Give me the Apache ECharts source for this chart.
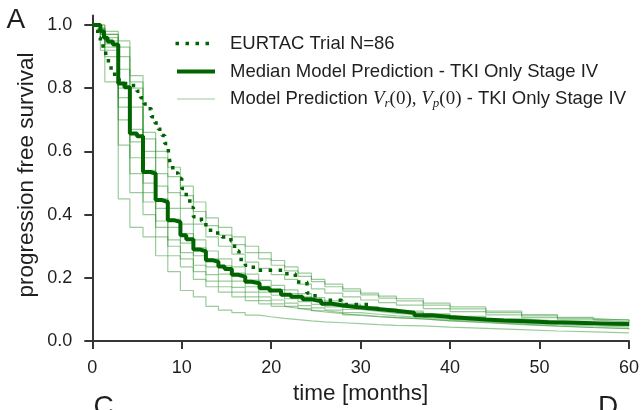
<!DOCTYPE html>
<html><head><meta charset="utf-8">
<script src="https://cdn.jsdelivr.net/npm/echarts@6/dist/echarts.min.js"></script>
<style>html,body{margin:0;padding:0;background:#fff}#c{width:642px;height:410px}</style>
</head><body><div id="c"></div>
<script>
// ---------- data ----------
const xTicks = [0, 10, 20, 30, 40, 50, 60];
const yTicks = [0, 0.2, 0.4, 0.6, 0.8, 1.0];

const trialT = [0,0.3,0.6,0.9,1.2,1.5,1.8,2.1,2.5,3.0,4.6,5.0,5.4,5.8,6.2,6.6,7.0,7.4,7.8,8.1,8.5,8.7,9.0,9.6,10.0,10.5,10.9,11.3,12.2,12.7,13.6,14.5,15.5,15.9,16.4,17.1,18.0,21.4,22.7,24.0,24.9,27.9,31.0];
const trialS = [1.0,0.985,0.96,0.94,0.92,0.895,0.87,0.855,0.834,0.815,0.80,0.79,0.77,0.75,0.735,0.71,0.69,0.67,0.65,0.625,0.596,0.562,0.532,0.514,0.483,0.456,0.423,0.393,0.38,0.351,0.342,0.329,0.317,0.285,0.258,0.24,0.224,0.213,0.187,0.152,0.129,0.116,0.116];

const medianT = [0,0.9,1.3,1.7,2.3,2.9,3.6,4.2,5.0,5.67,6.5,7.08,7.8,8.44,9.2,9.85,10.5,11.3,12.0,12.7,13.4,14.1,14.8,15.6,16.3,17.1,17.8,18.7,19.8,21.1,22.2,23.5,24.5,25.6,26.8,28.2,29.5,31,32.5,34,36,38,40,42,44,46,48.5,51,54,57,60];
const medianS = [1.0,0.98,0.96,0.948,0.938,0.815,0.803,0.657,0.648,0.535,0.53,0.446,0.44,0.382,0.377,0.335,0.322,0.29,0.284,0.256,0.251,0.236,0.228,0.21,0.204,0.188,0.183,0.167,0.16,0.147,0.14,0.132,0.126,0.118,0.112,0.108,0.104,0.1,0.096,0.09,0.082,0.076,0.072,0.068,0.065,0.063,0.06,0.058,0.056,0.054,0.052];

const predT = [0,0.9,1.4,2.9,4.2,5.67,7.08,8.44,9.85,11.3,12.7,14.1,15.6,17.1,18.6,20.0,21.5,23.0,24.5,26,28,30,32,34,37,40,44,48,52,56,60];
const pred1  = [1.0,1.0,0.98,0.95,0.84,0.66,0.60,0.55,0.49,0.44,0.39,0.36,0.33,0.30,0.28,0.255,0.235,0.215,0.195,0.18,0.165,0.152,0.142,0.134,0.12,0.108,0.095,0.084,0.075,0.068,0.063];
const pred2  = [1.0,1.0,0.97,0.93,0.82,0.64,0.58,0.52,0.46,0.41,0.365,0.335,0.305,0.28,0.26,0.24,0.222,0.205,0.188,0.172,0.158,0.146,0.136,0.127,0.114,0.102,0.09,0.08,0.072,0.066,0.06];
const pred3  = [1.0,0.99,0.97,0.90,0.80,0.60,0.53,0.47,0.42,0.37,0.33,0.30,0.275,0.25,0.23,0.21,0.195,0.18,0.165,0.152,0.14,0.13,0.122,0.114,0.103,0.093,0.083,0.074,0.067,0.061,0.057];
const pred4  = [1.0,0.99,0.96,0.86,0.74,0.58,0.49,0.42,0.37,0.32,0.285,0.26,0.235,0.212,0.192,0.176,0.162,0.15,0.138,0.127,0.117,0.109,0.102,0.095,0.086,0.078,0.07,0.064,0.059,0.055,0.052];
const pred5  = [1.0,0.98,0.95,0.80,0.67,0.54,0.45,0.385,0.34,0.295,0.26,0.238,0.215,0.193,0.173,0.163,0.15,0.14,0.13,0.12,0.11,0.104,0.098,0.09,0.082,0.074,0.067,0.062,0.058,0.055,0.05];
const pred6  = [1.0,0.98,0.94,0.77,0.63,0.50,0.42,0.36,0.31,0.27,0.235,0.212,0.19,0.172,0.155,0.145,0.134,0.125,0.116,0.108,0.1,0.094,0.088,0.082,0.075,0.068,0.062,0.057,0.053,0.05,0.047];
const pred7  = [1.0,0.97,0.93,0.74,0.58,0.47,0.38,0.32,0.28,0.24,0.21,0.19,0.17,0.155,0.14,0.13,0.12,0.112,0.105,0.098,0.09,0.085,0.08,0.075,0.069,0.063,0.057,0.052,0.048,0.045,0.043];
const pred8  = [1.0,0.97,0.92,0.70,0.53,0.44,0.36,0.30,0.26,0.22,0.19,0.172,0.155,0.14,0.128,0.118,0.11,0.103,0.096,0.09,0.083,0.078,0.074,0.07,0.064,0.058,0.052,0.047,0.043,0.04,0.038];
const pred9  = [1.0,0.96,0.90,0.62,0.47,0.40,0.33,0.27,0.235,0.195,0.172,0.155,0.14,0.128,0.118,0.11,0.104,0.098,0.092,0.087,0.081,0.077,0.074,0.07,0.065,0.06,0.054,0.048,0.043,0.039,0.036];
const pred10 = [1.0,0.92,0.82,0.45,0.36,0.33,0.27,0.22,0.16,0.14,0.11,0.098,0.09,0.082,0.077,0.072,0.068,0.064,0.061,0.058,0.055,0.052,0.05,0.048,0.044,0.04,0.036,0.032,0.029,0.026,0.024];
const predLines = [pred1, pred2, pred3, pred4, pred5, pred6, pred7, pred8, pred9, pred10];

const legendLabels = [
  'EURTAC Trial N=86',
  'Median Model Prediction - TKI Only Stage IV',
  '{n|Model Prediction }{v|V}{s|r}{m|(0), }{v|V}{s|p}{m|(0)}{n| - TKI Only Stage IV}'
];

// ---------- chart ----------
const FONT = '"Liberation Sans", Arial, sans-serif';
const SERIF = '"Liberation Serif", "DejaVu Serif", serif';
const TXT = '#1f1f1f';
const AX = '#363636';
const DARK = '#006400';
const LIGHT = 'rgba(34,139,34,0.45)';

const chart = echarts.init(document.getElementById('c'), null, {renderer: 'canvas'});
const series = [];
predLines.forEach(function (arr) {
  series.push({
    type: 'line', step: 'end', symbol: 'none', silent: true, z: 2,
    data: predT.map(function (t, i) { return [t, arr[i]]; }),
    lineStyle: {color: LIGHT, width: 1.2}
  });
});
series.push({
  type: 'line', step: 'end', symbol: 'none', z: 3,
  data: medianT.map(function (t, i) { return [t, medianS[i]]; }),
  lineStyle: {color: DARK, width: 4}
});
series.push({
  type: 'line', step: 'end', symbol: 'none', z: 4,
  data: trialT.map(function (t, i) { return [t, trialS[i]]; }),
  lineStyle: {color: DARK, width: 3.5, type: [3.5, 6.5], cap: 'butt'}
});

function txt(x, y, text, size, extra) {
  const st = {text: text, fontSize: size, fontFamily: FONT, fill: TXT,
    textAlign: 'left', align: 'left', textVerticalAlign: 'middle', verticalAlign: 'middle'};
  if (extra) Object.assign(st, extra);
  return {type: 'text', x: x, y: y, style: st, z: 10};
}

const option = {
  animation: false,
  backgroundColor: '#fff',
  grid: {left: 92.3, right: 10, top: 15.5, bottom: 68.3, containLabel: false},
  xAxis: {
    type: 'value', min: 0, max: 60, interval: 10,
    name: 'time [months]', nameLocation: 'middle', nameGap: 27,
    nameTextStyle: {fontSize: 22.5, fontFamily: FONT, color: TXT},
    axisLine: {show: true, lineStyle: {color: AX, width: 2}},
    axisTick: {show: true, length: 8, lineStyle: {color: AX, width: 2}, customValues: xTicks},
    axisLabel: {fontSize: 18, fontFamily: FONT, color: TXT, margin: 18, customValues: xTicks},
    splitLine: {show: false}
  },
  yAxis: {
    type: 'value', min: 0, max: 1.03, interval: 0.2,
    axisLine: {show: true, lineStyle: {color: AX, width: 2}},
    axisTick: {show: true, length: 8, lineStyle: {color: AX, width: 2}, customValues: yTicks},
    axisLabel: {fontSize: 18, fontFamily: FONT, color: TXT, margin: 20, customValues: yTicks,
      formatter: function (v) { return v.toFixed(1); }},
    splitLine: {show: false}
  },
  series: series,
  graphic: [
    {type: 'text', x: 27, y: 175, rotation: Math.PI / 2, z: 10,
      style: {text: 'progression free survival', fontSize: 22.5, fontFamily: FONT, fill: TXT,
        textAlign: 'center', align: 'center', textVerticalAlign: 'middle', verticalAlign: 'middle'}},
    txt(6.5, 20, 'A', 28),
    txt(93.5, 407, 'C', 28),
    txt(598, 407, 'D', 28),
    {type: 'line', z: 10, shape: {x1: 175.5, y1: 43.5, x2: 211, y2: 43.5},
      style: {stroke: DARK, lineWidth: 3.5, lineDash: [3.5, 6.5]}},
    {type: 'line', z: 10, shape: {x1: 177, y1: 71.5, x2: 215, y2: 71.5},
      style: {stroke: DARK, lineWidth: 4}},
    {type: 'line', z: 10, shape: {x1: 177, y1: 99, x2: 215, y2: 99},
      style: {stroke: LIGHT, lineWidth: 1.2}},
    txt(230, 43.5, legendLabels[0], 18.5),
    txt(230, 71.5, legendLabels[1], 18.5),
    txt(230, 99, legendLabels[2], 18.5, {
      rich: {
        n: {fontSize: 18.5, fontFamily: FONT, color: TXT, lineHeight: 22},
        v: {fontSize: 19, fontFamily: SERIF, fontStyle: 'italic', color: TXT, lineHeight: 22},
        m: {fontSize: 19, fontFamily: SERIF, color: TXT, lineHeight: 22},
        s: {fontSize: 13, fontFamily: SERIF, fontStyle: 'italic', color: TXT, lineHeight: 13, verticalAlign: 'bottom'}
      }
    })
  ]
};
chart.setOption(option);
</script></body></html>
